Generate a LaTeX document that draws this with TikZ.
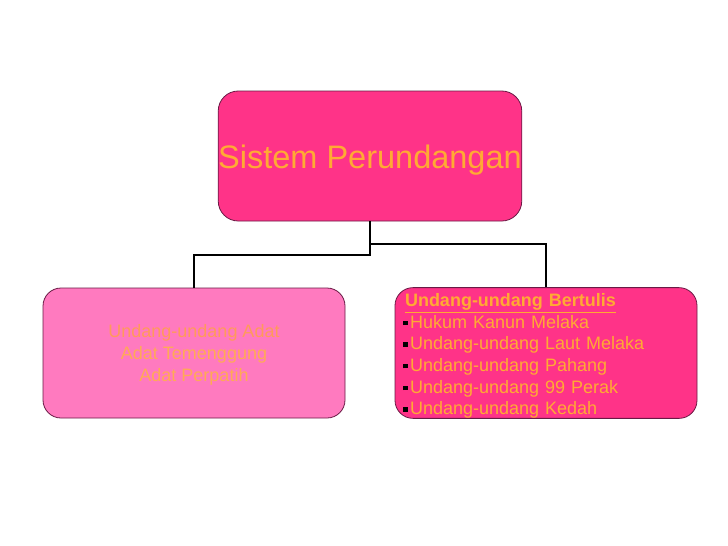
\documentclass[tikz,border=0pt]{standalone}
\usepackage{fontspec}
\setmainfont{Liberation Sans}
\usepackage{xcolor}
\usepackage{tikz}
\usetikzlibrary{positioning, calc}
\definecolor{merahjambu}{HTML}{FF3388}
\definecolor{jambumuda}{HTML}{FF7ABF}
\definecolor{jingga}{HTML}{FFAA33}
\definecolor{jinggamerah}{HTML}{FF9A5A}
\definecolor{jinggamuda}{HTML}{FFAA55}
\definecolor{sempadan}{HTML}{6A1A45}
\newcommand{\titik}{\textcolor{black}{\raisebox{3pt}{\rule{4.5pt}{4.5pt}}}\hspace{2.5pt}}

\begin{document}
\begin{tikzpicture}[x=1pt, y=-1pt,
    kotak/.style={draw=sempadan, line width=0.8pt, rounded corners=18pt, minimum width=302pt, minimum height=130pt, inner sep=0pt},
    garis/.style={draw=black, line width=2pt}]
      \useasboundingbox (0,0) rectangle (728,546);
      \node[kotak, fill=merahjambu, rounded corners=20pt, text=jingga, font=\fontsize{32.5}{38}\selectfont] (sistem) at (370,156) {\rule{0pt}{31pt}Sistem Perundangan};
      \node[kotak, fill=jambumuda, text=jinggamuda, align=center, font=\fontsize{18}{22}\selectfont] (adat) at (194,353) {\rule{0pt}{17pt}\textcolor{jinggamerah}{Undang-undang Adat}\\Adat Temenggung\\Adat Perpatih};
      \node[kotak, fill=merahjambu, text=jingga, align=left, text width=286pt, inner xsep=8pt, font=\fontsize{18}{21.6}\selectfont] (bertulis) at (546,353) {\rule{0pt}{19pt}\hspace{2pt}\underline{\textbf{Undang-undang Bertulis}}\\
        \titik Hukum Kanun Melaka\\
        \titik Undang-undang Laut Melaka\\
        \titik Undang-undang Pahang\\
        \titik Undang-undang 99 Perak\\
        \titik Undang-undang Kedah};
      % penyambung
      \draw[garis] (sistem.south) -- ++(0,34) -| (adat.north);
      \draw[garis] (sistem.south) ++(0,23) -| (bertulis.north);
\end{tikzpicture}
\end{document}
